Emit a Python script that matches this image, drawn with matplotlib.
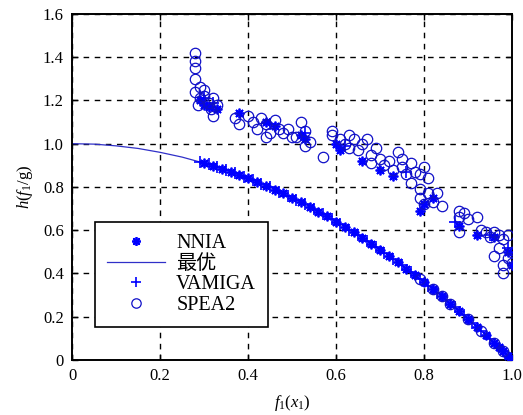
import matplotlib
matplotlib.use('Agg')
import numpy as np
import matplotlib.pyplot as plt

plt.rcParams['font.family'] = ['Liberation Serif', 'Noto Sans CJK SC']
plt.rcParams['mathtext.fontset'] = 'custom'
plt.rcParams['mathtext.rm'] = 'Liberation Serif'
plt.rcParams['mathtext.it'] = 'Liberation Serif:italic'

# optimal front
opt_f = [0.0, 0.05, 0.10, 0.15, 0.20, 0.25, 0.30, 0.35, 0.40, 0.45, 0.50,
         0.55, 0.60, 0.65, 0.70, 0.75, 0.80, 0.85, 0.90, 0.95, 1.00]
opt_h = [1.0, 0.998, 0.99, 0.978, 0.96, 0.938, 0.91, 0.878, 0.84, 0.798, 0.75,
         0.698, 0.64, 0.578, 0.51, 0.438, 0.36, 0.278, 0.19, 0.098, 0.0]

# NNIA (asterisks)
nnia_f = [0.30, 0.32, 0.34, 0.36, 0.38, 0.40, 0.42, 0.44, 0.46, 0.48, 0.50, 0.52,
          0.54, 0.56, 0.58, 0.60, 0.62, 0.64, 0.66, 0.68, 0.70, 0.72, 0.74, 0.76,
          0.78, 0.80, 0.82, 0.84, 0.86, 0.88, 0.90, 0.92, 0.94, 0.96, 0.97, 0.98,
          0.99, 1.00,
          0.29, 0.30, 0.31, 0.33, 0.38, 0.44, 0.46, 0.52, 0.53, 0.60, 0.61, 0.66,
          0.70, 0.73, 0.79, 0.80, 0.82, 0.88, 0.92, 0.96, 0.99, 1.00]
nnia_h = [0.91, 0.898, 0.884, 0.870, 0.856, 0.840, 0.824, 0.806, 0.788, 0.770, 0.750, 0.730,
          0.708, 0.686, 0.664, 0.640, 0.616, 0.590, 0.564, 0.538, 0.510, 0.482, 0.452, 0.422,
          0.392, 0.360, 0.328, 0.294, 0.260, 0.226, 0.190, 0.154, 0.116, 0.078, 0.059, 0.040,
          0.020, 0.0,
          1.20, 1.18, 1.17, 1.16, 1.14, 1.10, 1.08, 1.04, 1.02, 1.00, 0.97, 0.92,
          0.88, 0.85, 0.69, 0.72, 0.75, 0.62, 0.58, 0.57, 0.50, 0.44]

# VAMIGA (plus)
vam_f = [0.29, 0.31, 0.33, 0.35, 0.37, 0.39, 0.41, 0.43, 0.45, 0.47, 0.49, 0.51,
         0.53, 0.55, 0.57, 0.59, 0.61, 0.63, 0.65, 0.67, 0.69, 0.71, 0.73, 0.75,
         0.77, 0.79, 0.81, 0.83, 0.85, 0.87, 0.89, 0.91, 0.93, 0.95, 0.98, 0.995,
         0.30, 0.32, 0.45, 0.53, 0.62, 0.76, 0.87, 0.95, 0.99]
vam_h = [0.916, 0.904, 0.891, 0.878, 0.863, 0.848, 0.832, 0.815, 0.798, 0.779, 0.760, 0.740,
         0.719, 0.698, 0.675, 0.652, 0.628, 0.603, 0.578, 0.551, 0.524, 0.496, 0.467, 0.438,
         0.407, 0.376, 0.344, 0.311, 0.278, 0.243, 0.208, 0.172, 0.135, 0.098, 0.040, 0.010,
         1.21, 1.19, 1.09, 1.05, 0.99, 0.87, 0.64, 0.58, 0.52]

# SPEA2 (circles)
spea_f = [0.28, 0.28, 0.28, 0.28, 0.28, 0.29, 0.285, 0.30, 0.31, 0.32, 0.315, 0.32, 0.30, 0.33, 0.29,
          0.37, 0.38, 0.40, 0.41, 0.42, 0.43, 0.44, 0.45, 0.46, 0.47, 0.44, 0.48, 0.49, 0.50,
          0.52, 0.53, 0.54, 0.53, 0.51,
          0.57, 0.59, 0.59, 0.61, 0.62, 0.63, 0.63, 0.64, 0.65, 0.66, 0.67, 0.68, 0.69, 0.68,
          0.70, 0.71, 0.72, 0.73, 0.74, 0.75, 0.75, 0.76, 0.77, 0.78, 0.79, 0.80, 0.81, 0.77,
          0.79, 0.79, 0.81, 0.82, 0.83, 0.84, 0.80,
          0.88, 0.88, 0.89, 0.90, 0.92, 0.88, 0.93, 0.94, 0.95, 0.96, 0.97, 0.98, 0.99, 0.96,
          0.97, 0.98, 0.98, 0.99, 1.00, 1.00,
          0.79, 0.82, 0.84, 0.86, 0.90, 0.93, 0.96, 0.98]
spea_h = [1.42, 1.38, 1.35, 1.30, 1.24, 1.21, 1.18, 1.22, 1.19, 1.21, 1.16, 1.13, 1.25, 1.18, 1.26,
          1.12, 1.09, 1.13, 1.10, 1.07, 1.12, 1.09, 1.05, 1.11, 1.07, 1.03, 1.05, 1.07, 1.03,
          1.10, 1.06, 1.01, 0.99, 1.03,
          0.94, 1.06, 1.04, 1.02, 1.00, 0.98, 1.04, 1.02, 0.97, 1.00, 1.02, 0.95, 0.98, 0.91,
          0.93, 0.90, 0.92, 0.88, 0.96, 0.93, 0.89, 0.86, 0.91, 0.87, 0.86, 0.89, 0.84, 0.82,
          0.79, 0.75, 0.77, 0.73, 0.77, 0.71, 0.72,
          0.69, 0.66, 0.68, 0.65, 0.66, 0.59, 0.60, 0.59, 0.57, 0.59, 0.58, 0.56, 0.58, 0.48,
          0.52, 0.44, 0.40, 0.47, 0.45, 0.50,
          0.376, 0.328, 0.294, 0.260, 0.190, 0.135, 0.078, 0.040]

xticks = [0, 0.2, 0.4, 0.6, 0.8, 1.0]
xticklabels = ['0', '0.2', '0.4', '0.6', '0.8', '1.0']
yticks = [0, 0.2, 0.4, 0.6, 0.8, 1.0, 1.2, 1.4, 1.6]
yticklabels = ['0', '0.2', '0.4', '0.6', '0.8', '1.0', '1.2', '1.4', '1.6']

fig = plt.figure(figsize=(5.23, 4.15), dpi=100)
ax = fig.add_axes([0.138, 0.1325, 0.841, 0.834])

blue = '#0000ff'
asterisk = (8, 2, 0)
ax.plot(nnia_f, nnia_h, linestyle='none', marker=asterisk, markersize=7,
        markeredgewidth=1.3, color=blue, label='NNIA', zorder=3)
ax.plot(opt_f, opt_h, color='#3030c8', linewidth=0.9, label='最优', zorder=2)
ax.plot(vam_f, vam_h, linestyle='none', marker='+', markersize=8,
        markeredgewidth=1.2, color=blue, label='VAMIGA', zorder=3)
ax.plot(spea_f, spea_h, linestyle='none', marker='o', markersize=7.5,
        markerfacecolor='none', markeredgewidth=0.9, color='#1010c8',
        label='SPEA2', zorder=3)

ax.set_xlim(0, 1)
ax.set_ylim(0, 1.6)
ax.set_xticks(xticks)
ax.set_xticklabels(xticklabels)
ax.set_yticks(yticks)
ax.set_yticklabels(yticklabels)
ax.tick_params(direction='in', length=4, width=1, labelsize=12, pad=6,
               top=True, right=True)
ax.grid(True, color='black', linestyle=(0, (4, 4)), linewidth=1.0)
for s in ax.spines.values():
    s.set_linewidth(1.4)

ax.set_xlabel(r'$f_1(x_1)$', fontsize=12, labelpad=6)
ax.set_ylabel(r'$h(f_1/\mathrm{g})$', fontsize=12, labelpad=6)

leg = ax.legend(loc='lower left', bbox_to_anchor=(0.051, 0.095), borderaxespad=0,
                fontsize=14.5, handlelength=2.9, labelspacing=0.08, fancybox=False,
                framealpha=1, edgecolor='black', borderpad=0.6, handletextpad=0.55,
                markerscale=0.9)
leg.get_frame().set_linewidth(1.2)
leg.set_zorder(5)

plt.savefig('out.png', dpi=100)
